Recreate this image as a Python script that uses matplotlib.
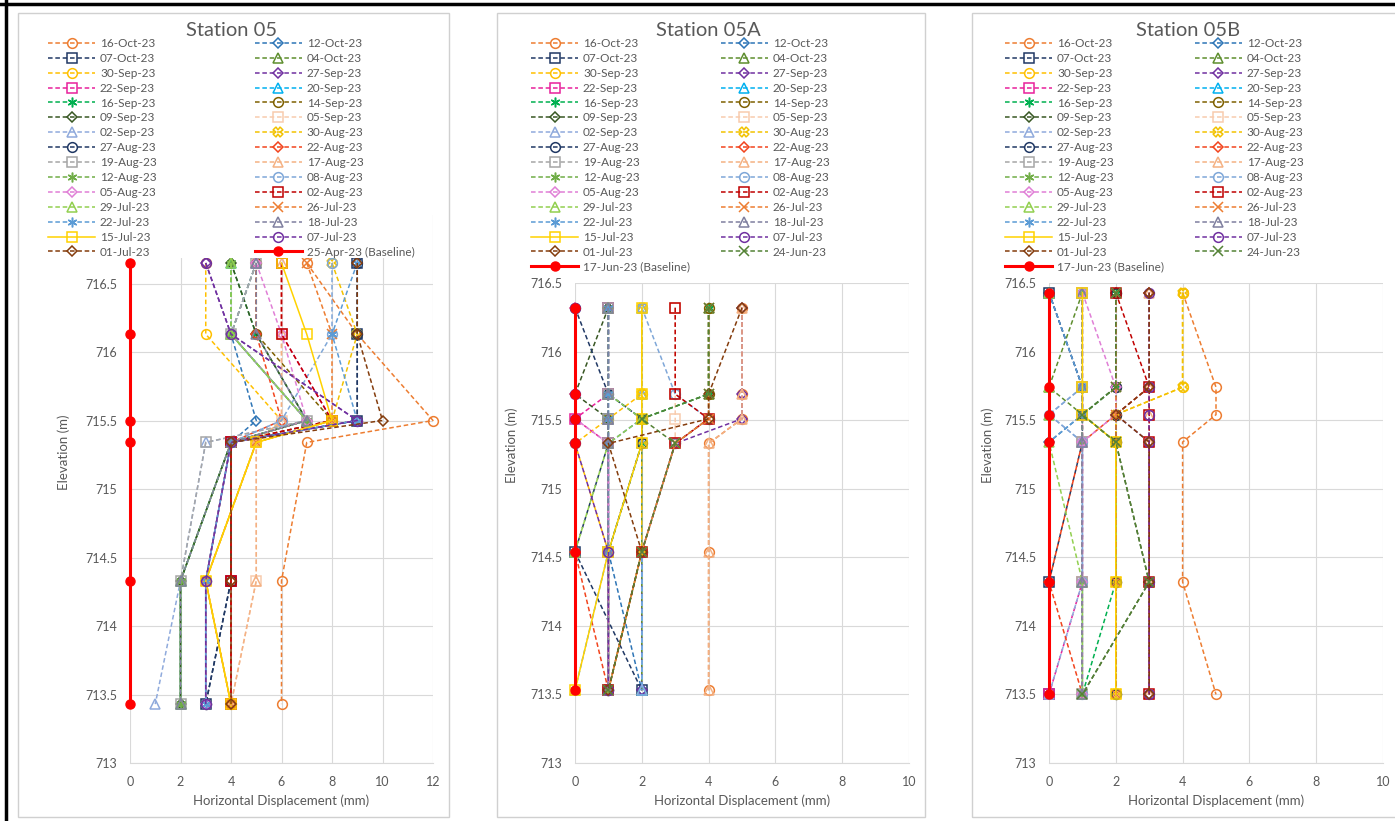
import numpy as np
import matplotlib.pyplot as plt
from matplotlib.lines import Line2D

plt.rcParams['font.family'] = ['Lato', 'DejaVu Sans']

# survey dates shared by the three stations (legend order)
dates = ['16-Oct-23', '12-Oct-23', '07-Oct-23', '04-Oct-23', '30-Sep-23', '27-Sep-23',
         '22-Sep-23', '20-Sep-23', '16-Sep-23', '14-Sep-23', '09-Sep-23', '05-Sep-23',
         '02-Sep-23', '30-Aug-23', '27-Aug-23', '22-Aug-23', '19-Aug-23', '17-Aug-23',
         '12-Aug-23', '08-Aug-23', '05-Aug-23', '02-Aug-23', '29-Jul-23', '26-Jul-23',
         '22-Jul-23', '18-Jul-23', '15-Jul-23', '07-Jul-23', '01-Jul-23']

# ---- Station 05 ----
elev_05 = [716.65, 716.13, 715.50, 715.34, 714.33, 713.43]
labels_05 = dates + ['25-Apr-23 (Baseline)']
disp_05 = [
    [7, 9, 12, 7, 6, 6],
    [5, 4, 5, 4, 3, 3],
    [9, 9, 9, 4, 4, 3],
    [5, 4, 7, 4, 2, 2],
    [3, 3, 6, 5, 3, 4],
    [3, 4, 9, 4, 3, 3],
    [6, 6, 8, 4, 4, 4],
    [4, 4, 7, 4, 2, 2],
    [4, 5, 7, 4, 2, 2],
    [5, 5, 8, 4, 3, 3],
    [4, 5, 7, 4, 2, 2],
    [6, 6, 6, 5, 5, 4],
    [5, 4, 7, 3, 2, 1],
    [8, 9, 8, 5, 3, 4],
    [9, 9, 9, 4, 4, 3],
    [5, 5, 6, 4, 4, 4],
    [5, 4, 7, 3, 2, 2],
    [6, 6, 6, 5, 5, 4],
    [4, 4, 7, 4, 2, 2],
    [8, 8, 6, 4, 3, 3],
    [5, 6, 7, 4, 3, 3],
    [6, 6, 8, 4, 4, 4],
    [4, 4, 7, 4, 2, 2],
    [7, 8, 8, 5, 3, 4],
    [9, 8, 9, 4, 3, 3],
    [5, 5, 7, 4, 2, 2],
    [6, 7, 8, 5, 3, 4],
    [3, 4, 9, 4, 3, 3],
    [9, 9, 10, 4, 4, 4],
    [0, 0, 0, 0, 0, 0],
]

# ---- Station 05A ----
elev_05a = [716.32, 715.69, 715.51, 715.33, 714.54, 713.53]
labels_05a = dates + ['24-Jun-23', '17-Jun-23 (Baseline)']
disp_05a = [
    [5, 5, 5, 4, 4, 4],
    [1, 1, 2, 1, 1, 2],
    [1, 1, 1, 1, 0, 2],
    [4, 4, 2, 2, 2, 2],
    [2, 2, 1, 0, 1, 1],
    [5, 5, 5, 3, 2, 2],
    [1, 1, 0, 1, 1, 1],
    [2, 2, 2, 2, 2, 2],
    [4, 4, 2, 2, 1, 1],
    [4, 4, 4, 3, 2, 1],
    [1, 0, 1, 1, 1, 1],
    [3, 3, 3, 3, 2, 1],
    [2, 2, 2, 2, 2, 2],
    [2, 2, 2, 2, 2, 1],
    [0, 1, 2, 2, 1, 1],
    [0, 0, 0, 0, 0, 1],
    [1, 1, 1, 1, 1, 1],
    [5, 5, 5, 4, 4, 4],
    [1, 1, 1, 1, 1, 1],
    [2, 3, 4, 3, 2, 1],
    [0, 0, 0, 1, 1, 1],
    [3, 3, 4, 3, 2, 1],
    [1, 1, 2, 1, 0, 0],
    [4, 4, 4, 3, 2, 1],
    [1, 1, 1, 1, 1, 0],
    [1, 1, 1, 1, 1, 1],
    [2, 2, 2, 2, 1, 0],
    [0, 0, 0, 0, 1, 1],
    [5, 4, 4, 1, 2, 1],
    [4, 4, 2, 3, 2, 1],
    [0, 0, 0, 0, 0, 0],
]

# ---- Station 05B ----
elev_05b = [716.43, 715.74, 715.54, 715.34, 714.32, 713.50]
labels_05b = dates + ['24-Jun-23', '17-Jun-23 (Baseline)']
disp_05b = [
    [4, 5, 5, 4, 4, 5],
    [0, 1, 1, 0, 0, 0],
    [0, 1, 1, 1, 0, 0],
    [1, 0, 1, 1, 1, 1],
    [4, 4, 2, 2, 2, 2],
    [3, 3, 2, 3, 3, 3],
    [1, 1, 1, 1, 1, 0],
    [1, 1, 1, 1, 1, 1],
    [2, 2, 1, 2, 2, 1],
    [2, 2, 2, 2, 2, 2],
    [2, 2, 1, 2, 3, 1],
    [1, 1, 1, 1, 1, 1],
    [1, 1, 0, 1, 1, 0],
    [4, 4, 2, 2, 2, 2],
    [2, 2, 2, 2, 2, 2],
    [3, 3, 2, 1, 0, 1],
    [1, 1, 1, 1, 1, 1],
    [3, 3, 3, 3, 3, 3],
    [1, 1, 1, 1, 1, 1],
    [1, 1, 0, 1, 1, 1],
    [1, 2, 2, 1, 1, 1],
    [2, 3, 3, 3, 3, 3],
    [0, 0, 0, 0, 1, 1],
    [2, 2, 2, 2, 2, 2],
    [0, 1, 1, 0, 0, 0],
    [1, 1, 1, 1, 1, 1],
    [1, 1, 1, 2, 2, 2],
    [3, 3, 3, 3, 3, 3],
    [3, 3, 2, 3, 3, 3],
    [2, 2, 1, 2, 3, 1],
    [0, 0, 0, 0, 0, 0],
]

STAR = (6, 2, 0)
style = {
    '16-Oct-23': ('#ED7D31', 'o', '--'),
    '12-Oct-23': ('#2E75B6', 'D', '--'),
    '07-Oct-23': ('#203864', 's', '--'),
    '04-Oct-23': ('#5E8E2E', '^', '--'),
    '30-Sep-23': ('#FFC000', 'o', '--'),
    '27-Sep-23': ('#7030A0', 'D', '--'),
    '22-Sep-23': ('#E8219B', 's', '--'),
    '20-Sep-23': ('#00B0F0', '^', '--'),
    '16-Sep-23': ('#00B050', STAR, '--'),
    '14-Sep-23': ('#7F6000', 'o', '--'),
    '09-Sep-23': ('#385723', 'D', '--'),
    '05-Sep-23': ('#F8CBAD', 's', '--'),
    '02-Sep-23': ('#8FAADC', '^', '--'),
    '30-Aug-23': ('#F2C200', 'X', '--'),
    '27-Aug-23': ('#203864', 'o', '--'),
    '22-Aug-23': ('#F2441D', 'D', '--'),
    '19-Aug-23': ('#A6A6A6', 's', '--'),
    '17-Aug-23': ('#F4B183', '^', '--'),
    '12-Aug-23': ('#70AD47', STAR, '--'),
    '08-Aug-23': ('#7FA7D8', 'o', '--'),
    '05-Aug-23': ('#E07FD6', 'D', '--'),
    '02-Aug-23': ('#C00000', 's', '--'),
    '29-Jul-23': ('#92D050', '^', '--'),
    '26-Jul-23': ('#ED7D31', 'x', '--'),
    '22-Jul-23': ('#5B9BD5', STAR, '--'),
    '18-Jul-23': ('#7F7F9F', '^', '--'),
    '15-Jul-23': ('#FFD200', 's', '-'),
    '07-Jul-23': ('#7030A0', 'o', '--'),
    '01-Jul-23': ('#843C0C', 'D', '--'),
    '24-Jun-23': ('#548235', 'x', '--'),
}

GREY = '#595959'
GRID = '#D9D9D9'

W, H = 1395, 821
fig = plt.figure(figsize=(W / 100, H / 100), dpi=100)


def px(x0, y0, x1, y1):
    # pixel box (top-left origin) -> figure fraction rect
    return [x0 / W, 1 - y1 / H, (x1 - x0) / W, (y1 - y0) / H]


def panel(rect, elev, labels, disp, xmax, ytop, title, title_x, leg_xy, colsp, ylab_xy):
    ax = fig.add_axes(rect)
    lines = []
    for lab, xs in zip(labels, disp):
        if 'Baseline' in lab:
            ln, = ax.plot(xs, elev, color='#FF0000', lw=2.2, marker='o', ms=6.5,
                          mfc='#FF0000', mec='#FF0000', label=lab, clip_on=False)
        else:
            c, m, ls = style[lab]
            ms = 5.5 if m == 'D' else 7
            ln, = ax.plot(xs, elev, color=c, lw=1.1, ls=ls, dashes=(3, 1.8) if ls == '--' else (None, None),
                          marker=m, ms=ms, mfc='none', mec=c, mew=1.1, label=lab, clip_on=False)
        lines.append(ln)
    ax.set_xlim(0, xmax)
    ax.set_ylim(713, ytop)
    ax.set_xticks(np.arange(0, xmax + 1, 2))
    ax.set_yticks(np.arange(713, 716.51, 0.5))
    ax.set_yticklabels(['713', '713.5', '714', '714.5', '715', '715.5', '716', '716.5'])
    ax.grid(True, color=GRID, lw=0.8)
    ax.set_axisbelow(True)
    for s in ['top', 'right', 'left']:
        ax.spines[s].set_visible(False)
    ax.spines['bottom'].set_color(GRID)
    ax.tick_params(length=0, labelsize=9, labelcolor=GREY, pad=9)
    ax.set_xlabel('Horizontal Displacement (mm)', fontsize=9.5, color=GREY, labelpad=5)
    fig.text(ylab_xy[0] / W, 1 - ylab_xy[1] / H, 'Elevation (m)', rotation=90,
             fontsize=9.5, color=GREY, ha='center', va='center')
    fig.text(title_x / W, 1 - 30 / H, title, fontsize=14.5, color=GREY, ha='center', va='center')

    order = lines[0::2] + lines[1::2]
    leg = ax.legend(handles=order, labels=[l.get_label() for l in order], ncol=2,
                    loc='upper left', bbox_to_anchor=(leg_xy[0] / W, 1 - leg_xy[1] / H),
                    bbox_transform=fig.transFigure, fontsize=8.5, handlelength=4,
                    handletextpad=0.4, columnspacing=colsp, labelspacing=0.33,
                    borderpad=0, borderaxespad=0, frameon=True, fancybox=False,
                    edgecolor='none', facecolor='white', framealpha=1)
    for t in leg.get_texts():
        t.set_color(GREY)
    return ax


panel(px(130, 215, 433, 763), elev_05, labels_05, disp_05, 12, 717,
      'Station 05', 232, (48, 38), 8.3, (64, 452))
panel(px(575, 283, 909, 763), elev_05a, labels_05a, disp_05a, 10, 716.5,
      'Station 05A', 708, (531, 38), 2.6, (512, 445))
panel(px(1049, 283, 1383, 763), elev_05b, labels_05b, disp_05b, 10, 716.5,
      'Station 05B', 1188, (1005, 38), 2.6, (988, 445))

# chart frames
for x0, x1 in [(18, 449), (497, 925), (972, 1400)]:
    fig.patches.append(plt.Rectangle((x0 / W, 1 - 817 / H), (x1 - x0) / W, (817 - 13) / H,
                                     transform=fig.transFigure, fill=False,
                                     edgecolor='#D0D0D0', lw=1))
# outer black border (top and left)
fig.add_artist(Line2D([0, 1], [1 - 4 / H, 1 - 4 / H], color='black', lw=2.5,
                      transform=fig.transFigure))
fig.add_artist(Line2D([6 / W, 6 / W], [0, 1], color='black', lw=2.5,
                      transform=fig.transFigure))

fig.savefig('out.png', dpi=100)
